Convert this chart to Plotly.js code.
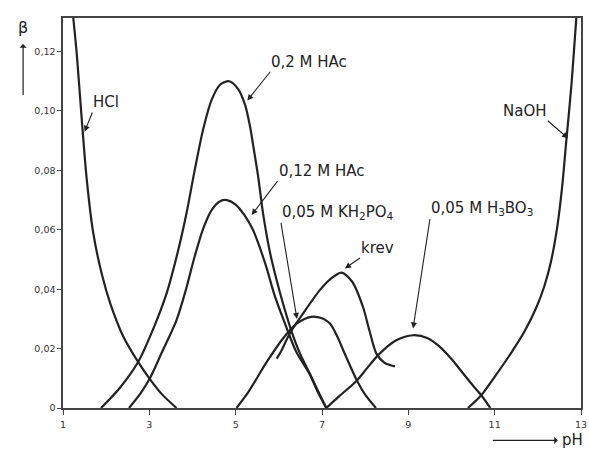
<!DOCTYPE html>
<html>
<head>
<meta charset="utf-8">
<script src="https://cdn.plot.ly/plotly-3.0.1.min.js"></script>
<style>html,body{margin:0;padding:0;background:#fff;}#chart{width:589px;height:451px;}</style>
</head>
<body>
<div id="chart"></div>
<script>
// ---- data (pH vs buffer capacity beta) ----
const hclPH   = [1.22, 1.32, 1.43, 1.55, 1.70, 1.90, 2.10, 2.40, 2.74, 3.00, 3.30, 3.63];
const hclB    = [0.134, 0.119, 0.098, 0.077, 0.059, 0.045, 0.035, 0.024, 0.0155, 0.010, 0.0045, 0.0];

const hac2PH  = [1.88, 2.30, 2.74, 3.10, 3.40, 3.65, 3.86, 4.05, 4.25, 4.45, 4.65, 4.85, 5.05, 5.22, 5.33, 5.41, 5.52, 5.64, 5.80, 5.95, 6.10, 6.29, 6.50, 6.72, 6.90, 7.10];
const hac2B   = [0.0, 0.0065, 0.0155, 0.027, 0.0386, 0.052, 0.0655, 0.080, 0.094, 0.104, 0.109, 0.110, 0.1075, 0.102, 0.095, 0.088, 0.078, 0.065, 0.052, 0.043, 0.035, 0.026, 0.018, 0.0115, 0.006, 0.0];

const hac12PH = [2.53, 2.80, 3.01, 3.30, 3.63, 3.85, 4.05, 4.25, 4.45, 4.65, 4.80, 5.00, 5.20, 5.40, 5.56, 5.72, 5.90, 6.18, 6.40, 6.72, 6.90, 7.10];
const hac12B  = [0.0, 0.005, 0.0099, 0.019, 0.0296, 0.040, 0.051, 0.0605, 0.0668, 0.0697, 0.070, 0.0685, 0.065, 0.060, 0.054, 0.047, 0.038, 0.027, 0.019, 0.0112, 0.0055, 0.0];

const phosPH  = [5.02, 5.30, 5.72, 6.10, 6.42, 6.75, 7.00, 7.18, 7.34, 7.55, 7.80, 8.00, 8.25];
const phosB   = [0.0, 0.0055, 0.0155, 0.0235, 0.0285, 0.0307, 0.0302, 0.0285, 0.0245, 0.0175, 0.0095, 0.0045, 0.0];

const krevPH  = [5.95, 6.05, 6.25, 6.56, 6.95, 7.20, 7.45, 7.70, 7.95, 8.10, 8.26, 8.45, 8.69];
const krevB   = [0.0166, 0.019, 0.025, 0.0318, 0.0397, 0.0435, 0.0456, 0.0425, 0.034, 0.026, 0.0183, 0.0152, 0.014];

const borPH   = [7.10, 7.40, 7.80, 8.05, 8.30, 8.72, 9.11, 9.45, 9.73, 10.00, 10.27, 10.50, 10.69, 10.90];
const borB    = [0.0, 0.004, 0.0091, 0.0135, 0.0178, 0.0228, 0.0245, 0.0235, 0.0206, 0.0165, 0.0116, 0.0075, 0.0043, 0.0];

const naohPH  = [10.38, 10.69, 11.00, 11.42, 11.70, 11.97, 12.15, 12.30, 12.45, 12.56, 12.66, 12.78, 12.89, 12.94];
const naohB   = [0.0, 0.0043, 0.0105, 0.0194, 0.026, 0.034, 0.041, 0.049, 0.061, 0.074, 0.090, 0.109, 0.131, 0.140];

const xTickVals = [1, 3, 5, 7, 9, 11, 13];
const xTickText = ['1', '3', '5', '7', '9', '11', '13'];
const yTickVals = [0, 0.02, 0.04, 0.06, 0.08, 0.10, 0.12];
const yTickText = ['0', '0,02', '0,04', '0,06', '0,08', '0,10', '0,12'];

const seriesNames = ['HCl', '0,2 M HAc', '0,12 M HAc', '0,05 M KH<sub>2</sub>PO<sub>4</sub>', 'krev', '0,05 M H<sub>3</sub>BO<sub>3</sub>', 'NaOH'];
const xTitle = 'pH';
const yTitle = 'β';

// ---- drawing ----
const FONT = '"DejaVu Sans", "Liberation Sans", sans-serif';
const INK = '#222';
const curveLine = {color: INK, width: 2.2, shape: 'spline', smoothing: 0.8};

const xs = [hclPH, hac2PH, hac12PH, phosPH, krevPH, borPH, naohPH];
const ys = [hclB, hac2B, hac12B, phosB, krevB, borB, naohB];
const traces = xs.map((x, i) => ({
  type: 'scatter', mode: 'lines', x: x, y: ys[i], name: seriesNames[i],
  line: curveLine, hoverinfo: 'skip', cliponaxis: true
}));

const labFont = {family: FONT, size: 15, color: INK};
// label text sits at the arrow tail (ax, ay); arrow points to (x, y) on the curve
function callout(text, x, y, ax, ay, xanchor, yanchor) {
  return {text: text, x: x, y: y, ax: ax, ay: ay, xref: 'x', yref: 'y', axref: 'x', ayref: 'y',
          xanchor: xanchor, yanchor: yanchor, font: labFont, borderpad: 0,
          showarrow: true, arrowhead: 2, arrowsize: 1.1, arrowwidth: 1.1, arrowcolor: INK};
}

const annotations = [
  callout(seriesNames[0], 1.50, 0.093, 1.68, 0.0995, 'left', 'bottom'),
  callout(seriesNames[1], 5.27, 0.1035, 5.80, 0.1132, 'left', 'bottom'),
  callout(seriesNames[2], 5.37, 0.0650, 5.97, 0.0764, 'left', 'bottom'),
  callout(seriesNames[3], 6.42, 0.0300, 6.05, 0.0623, 'left', 'bottom'),
  callout(seriesNames[4], 7.53, 0.0470, 7.88, 0.0505, 'left', 'bottom'),
  callout(seriesNames[5], 9.11, 0.0268, 9.50, 0.0636, 'left', 'bottom'),
  callout(seriesNames[6], 12.70, 0.0908, 12.23, 0.0967, 'right', 'bottom'),
  // axis symbols with arrows (arrowhead drawn next to the symbol)
  {text: yTitle, xref: 'paper', yref: 'paper', x: -0.077, y: 0.8024, ax: 0, ay: -68,
   font: {family: FONT, size: 16, color: INK},
   showarrow: true, arrowside: 'start', arrowhead: 2, arrowsize: 1.1, arrowwidth: 1.2,
   arrowcolor: INK, startstandoff: 6},
  {text: xTitle, xref: 'paper', yref: 'paper', x: 0.8298, y: -0.083, ax: 80, ay: 0,
   font: {family: FONT, size: 15, color: INK},
   showarrow: true, arrowside: 'start', arrowhead: 2, arrowsize: 1.1, arrowwidth: 1.2,
   arrowcolor: INK, startstandoff: 3}
];

const layout = {
  width: 589, height: 451,
  margin: {l: 63, r: 8, t: 18, b: 43},
  paper_bgcolor: '#fff', plot_bgcolor: '#fff',
  showlegend: false,
  xaxis: {
    range: [1, 13], tickmode: 'array', tickvals: xTickVals, ticktext: xTickText,
    showgrid: false, zeroline: false, showline: true, mirror: true,
    linecolor: '#444', linewidth: 1.6, ticks: 'outside', ticklen: 5, tickcolor: '#444',
    tickfont: {family: FONT, size: 9.5, color: '#333'}, ticklabelstandoff: 2
  },
  yaxis: {
    range: [0, 0.1313], tickmode: 'array', tickvals: yTickVals, ticktext: yTickText,
    showgrid: false, zeroline: false, showline: true, mirror: true,
    linecolor: '#444', linewidth: 1.6, ticks: 'outside', ticklen: 4, tickcolor: '#444',
    tickfont: {family: FONT, size: 9.5, color: '#333'}
  },
  annotations: annotations
};

Plotly.newPlot('chart', traces, layout, {staticPlot: true, displayModeBar: false});
</script>
</body>
</html>
